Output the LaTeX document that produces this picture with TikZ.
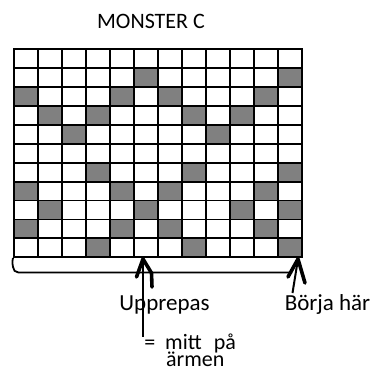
\documentclass[tikz,border=0pt]{standalone}
\usepackage{fontspec}
\setmainfont{Carlito}
\begin{document}
\begin{tikzpicture}[x=1pt,y=-1pt,
  cell/.style={draw=black,line width=1.8pt},
  graycell/.style={cell,fill=black!50},
  label/.style={inner sep=0pt,font=\fontsize{23}{26}\selectfont},
  bracketline/.style={line width=1.8pt},
  pointer/.style={line width=1.6pt},
  chevron/.style={line width=3.6pt,line cap=round,line join=round}]
\useasboundingbox (0,0) rectangle (376,367);
% grid
\def\cw{24}
\def\ch{18.909}
\foreach \r in {0,...,10}{
  \foreach \c in {0,...,11}{
    \draw[cell] ({14+\c*\cw},{49.3+\r*\ch}) rectangle ++(\cw,\ch);
  }
}
\foreach \r/\c in {1/5,1/11,
  2/0,2/4,2/6,2/10,
  3/1,3/3,3/7,3/9,
  4/2,4/8,
  6/3,6/7,6/11,
  7/0,7/4,7/6,7/10,
  8/1,8/5,8/9,8/11,
  9/0,9/4,9/6,9/10,
  10/3,10/7,10/11}{
  \draw[graycell] ({14+\c*\cw},{49.3+\r*\ch}) rectangle ++(\cw,\ch);
}
% title
\node[label,font=\fontsize{22}{26}\selectfont,anchor=base] (title) at (151,28.5) {MONSTER C};
% labels
\node[label,anchor=base] (upp) at (164.5,310.7) {Upprepas};
\node[label,anchor=base] (borja) at (327.5,310.7) {Börja här};
\node[label,font=\fontsize{22}{17}\selectfont,anchor=base west] (mitt) at (165,349) {\llap{=\hspace{0.45em}}mitt\hspace{0.55em}på};
\node[label,font=\fontsize{22}{17}\selectfont,anchor=base west] (armen) at (166,366.5) {ärmen};
% bracket
\coordinate (bl) at (13,258);
\coordinate (br) at (292,272.5);
\draw[bracketline] (bl) .. controls (12,262) and (12.5,265) .. (13,267) arc[start angle=180,end angle=90,radius=5.5] -- (br);
% arrow 1
\coordinate (t1) at (143,259);
\coordinate (e1) at (143,337);
\draw[pointer] (t1) -- (e1);
\draw[chevron] (136.5,277) -- (t1) -- (151.5,273) -- (152,287);
% arrow 2
\coordinate (t2) at (298,259);
\coordinate (e2) at (292.5,293);
\draw[pointer,line width=2pt] (t2) -- (e2);
\draw[chevron] (288,277) -- (t2) -- (305,283);
\end{tikzpicture}
\end{document}
